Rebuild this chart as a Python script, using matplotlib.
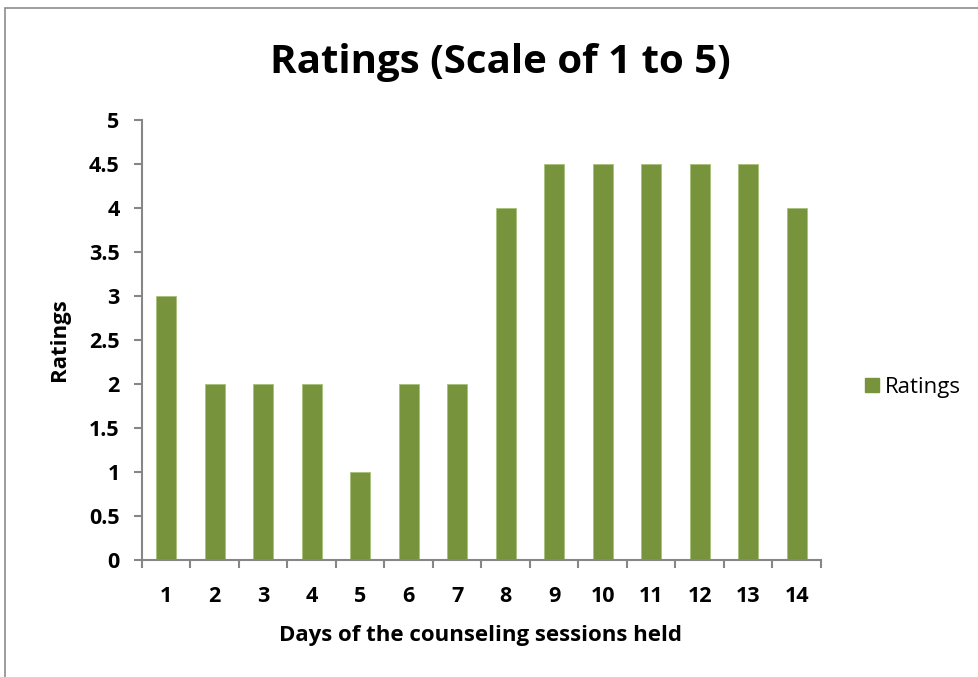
import matplotlib
matplotlib.use("Agg")
import matplotlib.pyplot as plt
from matplotlib.patches import Rectangle
from matplotlib.lines import Line2D
import numpy as np

days = [1, 2, 3, 4, 5, 6, 7, 8, 9, 10, 11, 12, 13, 14]
ratings = [3, 2, 2, 2, 1, 2, 2, 4, 4.5, 4.5, 4.5, 4.5, 4.5, 4]
y_ticks = [0, 0.5, 1, 1.5, 2, 2.5, 3, 3.5, 4, 4.5, 5]

bar_color = '#77933C'
axis_color = '#868686'

plt.rcParams['font.family'] = ['Open Sans', 'DejaVu Sans']

fig = plt.figure(figsize=(9.79, 6.77), dpi=100)
ax = fig.add_axes([0.145, 0.1728, 0.6936, 0.65])

x = np.arange(len(days)) + 1
ax.bar(x, ratings, width=0.41, color=bar_color, edgecolor='#a9c07a', linewidth=0.6)

ax.set_xlim(0.5, len(days) + 0.5)
ax.set_ylim(0, 5)

# category boundaries get the tick marks, centres get the labels
ax.set_xticks(np.arange(len(days) + 1) + 0.5)
ax.set_xticklabels([])
ax.set_xticks(x, minor=True)
ax.set_xticklabels([str(d) for d in days], minor=True, fontsize=15.5, fontweight='bold')
ax.tick_params(axis='x', which='major', length=6, width=1.5, color=axis_color, direction='out')
ax.tick_params(axis='x', which='minor', length=0, pad=19)

ax.set_yticks(y_ticks)
ax.set_yticklabels([('%g' % v) for v in y_ticks], fontsize=15.5, fontweight='bold')
ax.tick_params(axis='y', length=6, width=1.5, color=axis_color, direction='out', pad=10)

for s in ['top', 'right']:
    ax.spines[s].set_visible(False)
for s in ['left', 'bottom']:
    ax.spines[s].set_color(axis_color)
    ax.spines[s].set_linewidth(1.5)

fig.text(0.511, 0.908, 'Ratings (Scale of 1 to 5)', ha='center', va='center',
         fontsize=29, fontweight='bold')
fig.text(0.491, 1 - 636 / 677, 'Days of the counseling sessions held', ha='center', va='center',
         fontsize=16, fontweight='bold')
fig.text(60 / 979, 1 - 340 / 677, 'Ratings', ha='center', va='center', rotation=90,
         fontsize=16, fontweight='bold')

# legend
handle = Line2D([], [], marker='s', linestyle='none', markersize=10,
                markerfacecolor=bar_color, markeredgecolor=bar_color)
fig.legend([handle], ['Ratings'], loc='center left', bbox_to_anchor=(0.878, 1 - 387 / 677),
           frameon=False, fontsize=16, handletextpad=0.05, borderaxespad=0, borderpad=0,
           handlelength=1.1)

# chart border
fig.patches.append(Rectangle((5 / 979, -0.1), 1.2, 1 - 8 / 677 + 0.1, transform=fig.transFigure,
                             fill=False, edgecolor='#8c8c8c', linewidth=1.2))

fig.savefig('out.png', dpi=100)
